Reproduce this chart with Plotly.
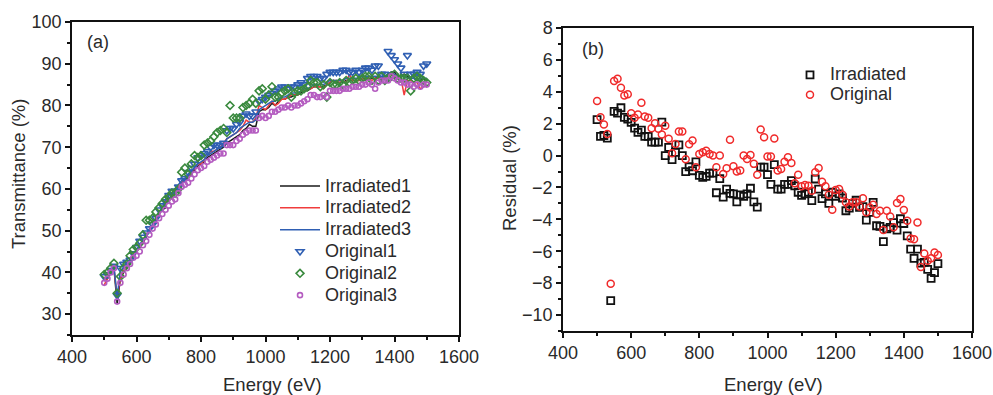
import plotly.graph_objects as go

energy = [500, 510, 520, 530, 540, 550, 560, 570, 580, 590,
          600, 610, 620, 630, 640, 650, 660, 670, 680, 690,
          700, 710, 720, 730, 740, 750, 760, 770, 780, 790,
          800, 810, 820, 830, 840, 850, 860, 870, 880, 890,
          900, 910, 920, 930, 940, 950, 960, 970, 980, 990,
          1000, 1010, 1020, 1030, 1040, 1050, 1060, 1070, 1080, 1090,
          1100, 1110, 1120, 1130, 1140, 1150, 1160, 1170, 1180, 1190,
          1200, 1210, 1220, 1230, 1240, 1250, 1260, 1270, 1280, 1290,
          1300, 1310, 1320, 1330, 1340, 1350, 1360, 1370, 1380, 1390,
          1400, 1410, 1420, 1430, 1440, 1450, 1460, 1470, 1480, 1490, 1500]

irradiated1 = [38.0, 38.5, 40.0, 41.0, 32.5, 38.5, 40.0, 41.0, 42.0, 43.5,
               45.0, 46.0, 47.0, 48.5, 50.0, 51.0, 52.5, 54.0, 55.0, 55.5,
               59.0, 58.5, 59.5, 60.5, 61.5, 62.0, 63.0, 64.0, 64.5, 65.5,
               66.0, 66.5, 67.5, 68.0, 68.5, 69.0, 69.5, 70.0, 71.0, 71.5,
               72.0, 72.5, 73.0, 74.0, 74.5, 75.5, 75.0, 75.0, 78.5, 79.0,
               79.0, 79.5, 80.5, 80.0, 81.0, 81.5, 81.5, 82.0, 82.0, 82.5,
               82.5, 83.0, 83.5, 83.5, 84.0, 84.5, 84.5, 84.5, 84.5, 85.0,
               85.5, 86.0, 85.5, 85.5, 85.5, 86.0, 86.0, 86.0, 86.0, 86.0,
               86.5, 86.5, 86.5, 86.5, 86.5, 87.0, 86.5, 87.0, 87.5, 88.0,
               88.0, 87.0, 87.0, 87.5, 87.0, 86.5, 86.5, 86.0, 86.0, 86.5, 86.0]

irradiated2 = [37.0, 38.5, 40.0, 41.0, 34.0, 38.5, 40.5, 41.5, 42.5, 44.0,
               45.0, 46.5, 47.5, 49.0, 50.0, 51.5, 53.0, 54.5, 55.5, 57.0,
               57.5, 58.5, 59.5, 60.5, 61.5, 62.5, 63.0, 64.0, 65.0, 66.0,
               66.0, 67.0, 68.0, 69.0, 69.0, 69.5, 70.0, 71.0, 72.0, 72.5,
               73.0, 73.5, 74.0, 75.0, 76.5, 76.0, 76.0, 77.0, 80.0, 79.5,
               79.0, 80.0, 81.0, 80.0, 80.5, 81.5, 81.5, 82.0, 82.5, 82.5,
               82.5, 83.5, 83.5, 84.0, 84.0, 84.5, 84.5, 84.5, 84.0, 85.0,
               85.5, 86.0, 86.0, 85.5, 86.0, 85.5, 87.5, 86.0, 86.0, 86.0,
               86.5, 86.0, 86.5, 86.0, 86.5, 86.5, 86.0, 86.5, 87.0, 87.5,
               87.0, 86.5, 86.5, 82.5, 86.0, 86.0, 85.5, 85.5, 84.0, 84.5, 85.0]

irradiated3 = [38.5, 39.0, 40.5, 41.5, 34.0, 40.5, 41.0, 42.0, 43.0, 44.0,
               45.5, 46.5, 47.5, 49.0, 50.5, 51.5, 53.0, 54.5, 55.5, 57.5,
               58.5, 59.0, 59.5, 61.0, 62.0, 62.5, 63.5, 64.5, 65.0, 66.0,
               66.5, 67.0, 68.0, 68.5, 69.0, 69.5, 70.0, 70.5, 72.0, 72.5,
               73.0, 73.5, 74.5, 75.0, 75.5, 76.0, 76.0, 76.5, 79.0, 79.5,
               80.0, 80.5, 81.0, 81.0, 81.5, 82.0, 82.0, 82.5, 83.0, 83.0,
               83.0, 83.5, 84.0, 84.0, 84.5, 85.0, 85.0, 85.0, 85.0, 85.5,
               86.0, 86.0, 86.0, 86.0, 86.0, 86.5, 86.5, 86.5, 86.5, 86.5,
               87.0, 87.0, 87.0, 87.0, 87.0, 87.0, 87.0, 87.0, 87.5, 88.0,
               87.5, 87.0, 87.0, 87.0, 86.5, 86.5, 86.5, 86.0, 86.5, 86.5, 86.5]

original1 = [39.0, 39.5, 40.5, 41.5, 34.5, 41.0, 42.0, 42.5, 43.0, 44.5,
             46.0, 47.5, 48.5, 49.5, 50.5, 51.5, 53.0, 55.0, 56.0, 57.0,
             58.5, 59.5, 59.5, 60.5, 62.0, 62.5, 64.0, 65.0, 66.0, 67.5,
             68.0, 68.5, 69.0, 70.0, 70.5, 70.5, 70.5, 71.0, 74.0, 74.5,
             74.5, 75.5, 76.0, 77.5, 78.0, 77.5, 77.5, 78.5, 81.0, 81.5,
             82.0, 82.5, 83.0, 83.5, 84.0, 84.5, 84.5, 84.0, 84.5, 84.5,
             85.0, 85.5, 85.0, 86.5, 87.0, 87.0, 87.0, 86.5, 86.5, 87.5,
             88.0, 88.0, 88.0, 88.0, 88.5, 88.5, 88.0, 88.0, 88.5, 88.0,
             88.5, 89.0, 89.0, 88.5, 89.5, 89.5, 87.5, 87.5, 93.0, 92.0,
             91.0, 90.0, 89.0, 87.5, 92.0, 87.5, 87.5, 88.0, 87.5, 89.5, 90.0]

original2 = [39.5, 40.0, 41.0, 42.2, 35.0, 39.0, 41.0, 42.0, 44.0, 45.5,
             46.0, 47.0, 49.0, 52.5, 52.5, 53.0, 54.5, 55.5, 56.5, 57.5,
             58.0, 59.0, 59.0, 60.0, 64.0, 65.0, 63.5, 66.0, 68.0, 67.5,
             68.0, 70.5, 71.0, 71.5, 72.5, 73.5, 74.0, 74.5, 73.5, 80.0,
             77.0, 77.0, 77.0, 79.5, 80.0, 80.5, 81.5, 80.5, 83.5, 84.0,
             81.5, 82.5, 84.5, 82.0, 82.0, 83.0, 83.5, 84.0, 82.0, 83.0,
             83.5, 83.5, 84.0, 84.5, 86.0, 85.5, 85.5, 84.5, 85.0, 82.0,
             85.5, 85.0, 85.0, 85.5, 85.0, 86.0, 85.5, 86.0, 86.5, 86.0,
             86.5, 87.0, 87.0, 86.0, 87.0, 86.0, 87.0, 86.0, 86.5, 87.0,
             87.5, 86.5, 86.5, 86.5, 86.5, 83.5, 86.5, 87.0, 86.5, 86.0, 85.5]

original3 = [37.5, 38.5, 40.0, 41.0, 33.0, 37.5, 39.5, 41.0, 42.0, 43.5,
             44.0, 45.0, 46.5, 47.5, 49.0, 50.5, 51.5, 53.0, 54.0, 55.0,
             56.0, 57.0, 57.5, 59.0, 60.5, 61.0, 61.5, 62.5, 63.5, 64.5,
             65.0, 65.5, 66.5, 67.0, 67.5, 68.0, 68.5, 68.5, 70.5, 70.5,
             70.5, 71.5, 72.0, 73.0, 73.5, 74.0, 74.0, 74.0, 77.0, 77.5,
             77.0, 77.5, 78.5, 78.5, 79.0, 79.5, 79.5, 80.0, 79.5, 80.0,
             80.0, 80.5, 81.0, 81.5, 82.5, 82.5, 82.0, 82.0, 82.5, 82.0,
             83.5, 83.5, 83.5, 83.5, 84.0, 84.0, 84.0, 84.5, 84.5, 84.5,
             85.0, 85.0, 85.5, 85.0, 84.0, 85.5, 86.0, 86.0, 86.0, 87.0,
             86.5, 86.0, 85.5, 85.5, 85.0, 85.0, 84.5, 85.0, 84.5, 85.0, 85.0]

residual_irradiated = [2.26, 1.2, 1.26, 1.09, -9.1, 2.77, 2.66, 3.0, 2.39, 2.29,
                       2.08, 1.72, 1.45, 1.6, 1.2, 1.2, 0.84, 0.84, 0.84, 2.1,
                       0.0, 0.52, -0.25, 0.2, 0.67, 0.0, -1.0, -0.7, -0.95, -0.4,
                       -1.24, -1.36, -1.3, -1.1, -1.1, -2.33, -1.45, -2.6, -2.1, -2.37,
                       -2.4, -2.9, -2.47, -2.56, -2.4, -2.05, -2.9, -3.23, -0.73, -0.73,
                       -1.2, -1.8, -0.57, -2.1, -2.1, -1.8, -1.8, -1.57, -1.9, -2.3,
                       -2.5, -2.4, -2.3, -2.83, -1.47, -2.1, -2.7, -2.4, -3.0, -2.3,
                       -2.55, -2.4, -2.66, -3.46, -3.3, -3.0, -2.8, -3.25, -3.2, -4.05,
                       -3.56, -2.93, -4.4, -4.44, -5.4, -4.6, -4.5, -4.2, -4.67, -3.96,
                       -4.26, -5.03, -5.87, -6.44, -5.87, -6.75, -6.7, -7.13, -7.7, -7.34, -6.77]

residual_original = [3.42, 2.41, 1.95, 1.36, -8.03, 4.67, 4.82, 4.26, 3.77, 3.84,
                     2.66, 2.37, 2.58, 3.31, 2.45, 2.37, 1.72, 2.03, 1.68, 1.32,
                     1.87, 1.05, 0.15, 0.73, 1.51, 1.51, -0.23, 0.71, 0.94, -0.73,
                     0.1, 0.21, 0.31, 0.1, 0.0, -0.73, 0.0, -1.15, -0.8, 0.99,
                     -0.67, -1.0, -0.94, 0.0, -0.21, 0.04, -0.52, -1.2, 1.64, 1.15,
                     -0.06, -0.06, 1.07, -0.94, -0.84, -0.38, -0.1, -0.46, -1.74, -1.2,
                     -1.93, -1.85, -1.89, -2.2, -1.05, -0.78, -1.64, -1.93, -2.45, -3.4,
                     -2.16, -2.1, -2.45, -2.93, -3.19, -2.93, -2.93, -3.2, -2.68, -3.56,
                     -3.25, -3.08, -3.67, -3.46, -4.67, -3.46, -3.82, -4.5, -2.98, -2.73,
                     -3.42, -4.09, -5.2, -5.24, -4.19, -6.98, -6.14, -6.6, -6.44, -6.08, -6.23]

# The page body margin is removed (post_script), so the figure fills the window.
W, H = 993, 395


def px(x):
    return x / W


def py(y):
    return 1 - y / H


FONT = "Liberation Sans, Arial, sans-serif"
TXT = "#2a2a2a"
LEG_TXT = '<span style="font-size:18px">{}</span>'

fig = go.Figure()

# Panel (a)
line_specs = [("Irradiated1", irradiated1, "#1a1a1a"),
              ("Irradiated2", irradiated2, "#f03c3c"),
              ("Irradiated3", irradiated3, "#2f5fb3")]
for name, vals, col in line_specs:
    fig.add_trace(go.Scatter(x=energy, y=vals, mode="lines", name=LEG_TXT.format(name),
                             line=dict(color=col, width=1.5),
                             xaxis="x", yaxis="y", legend="legend"))

marker_specs = [("Original1", original1, "#2f5fb3", "triangle-down-open", 7),
                ("Original2", original2, "#3a8a3e", "diamond-open", 6),
                ("Original3", original3, "#b45cc0", "circle-open", 5)]
for name, vals, col, sym, sz in marker_specs:
    fig.add_trace(go.Scatter(x=energy, y=vals, mode="markers", name=LEG_TXT.format(name),
                             marker=dict(color=col, symbol=sym, size=sz,
                                         line=dict(color=col, width=1.6)),
                             xaxis="x", yaxis="y", legend="legend"))

# Panel (b)
fig.add_trace(go.Scatter(x=energy, y=residual_irradiated, mode="markers",
                         name=LEG_TXT.format("Irradiated"),
                         marker=dict(color="#111111", symbol="square-open", size=7,
                                     line=dict(color="#111111", width=1.8)),
                         xaxis="x2", yaxis="y2", legend="legend2"))
fig.add_trace(go.Scatter(x=energy, y=residual_original, mode="markers",
                         name=LEG_TXT.format("Original"),
                         marker=dict(color="#f02a2a", symbol="circle-open", size=7,
                                     line=dict(color="#f02a2a", width=1.5)),
                         xaxis="x2", yaxis="y2", legend="legend2"))

axis_common = dict(showline=True, linecolor="#111111", linewidth=1.5, mirror=True,
                   ticks="outside", ticklen=5, tickwidth=1.5, tickcolor="#111111",
                   showgrid=False, zeroline=False, automargin=False,
                   tickfont=dict(family=FONT, size=18, color=TXT))

fig.update_layout(
    width=W, height=H,
    margin=dict(l=0, r=0, t=0, b=0, autoexpand=False),
    paper_bgcolor="white", plot_bgcolor="white",
    font=dict(family=FONT, color=TXT),
    xaxis=dict(domain=[px(72), px(459)], range=[400, 1600], dtick=200, tick0=400,
               minor=dict(ticks="outside", ticklen=3, dtick=100, tickcolor="#111111"),
               anchor="y", **axis_common),
    yaxis=dict(domain=[py(335), py(22)], range=[25, 100], dtick=10, tick0=0,
               minor=dict(ticks="outside", ticklen=3, dtick=5, tickcolor="#111111"),
               anchor="x", **axis_common),
    xaxis2=dict(domain=[px(563), px(972)], range=[400, 1600], dtick=200, tick0=400,
                minor=dict(ticks="outside", ticklen=3, dtick=100, tickcolor="#111111"),
                anchor="y2", **axis_common),
    yaxis2=dict(domain=[py(331), py(28)], range=[-11, 8], dtick=2, tick0=0,
                minor=dict(ticks="outside", ticklen=3, dtick=1, tickcolor="#111111"),
                anchor="x2", **axis_common),
    legend=dict(x=px(275), y=py(170), xanchor="left", yanchor="top",
                bgcolor="rgba(0,0,0,0)", font=dict(family=FONT, size=14.5, color=TXT),
                itemwidth=40, tracegroupgap=0),
    legend2=dict(x=px(790), y=py(60), xanchor="left", yanchor="top",
                 bgcolor="rgba(0,0,0,0)", font=dict(family=FONT, size=13, color=TXT),
                 itemwidth=30, tracegroupgap=0),
    showlegend=True,
)

annots = [
    dict(text="(a)", x=px(85), y=py(42), xanchor="left", yanchor="middle", size=18),
    dict(text="(b)", x=px(580), y=py(49), xanchor="left", yanchor="middle", size=18),
    dict(text="Energy (eV)", x=px(272), y=py(384), xanchor="center", yanchor="middle", size=18.5),
    dict(text="Energy (eV)", x=px(773), y=py(384), xanchor="center", yanchor="middle", size=18.5),
    dict(text="Transmittance (%)", x=px(18), y=py(174), xanchor="center", yanchor="middle", size=18.5, angle=-90),
    dict(text="Residual (%)", x=px(510), y=py(178), xanchor="center", yanchor="middle", size=18.5, angle=-90),
]
for a in annots:
    fig.add_annotation(text=a["text"], x=a["x"], y=a["y"], xref="paper", yref="paper",
                       xanchor=a["xanchor"], yanchor=a["yanchor"], showarrow=False,
                       textangle=a.get("angle", 0),
                       font=dict(family=FONT, size=a["size"], color=TXT))

fig.write_html("out.html",
               config={"displayModeBar": False},
               post_script="document.body.style.margin='0';"
                           "document.body.style.overflow='hidden';")
